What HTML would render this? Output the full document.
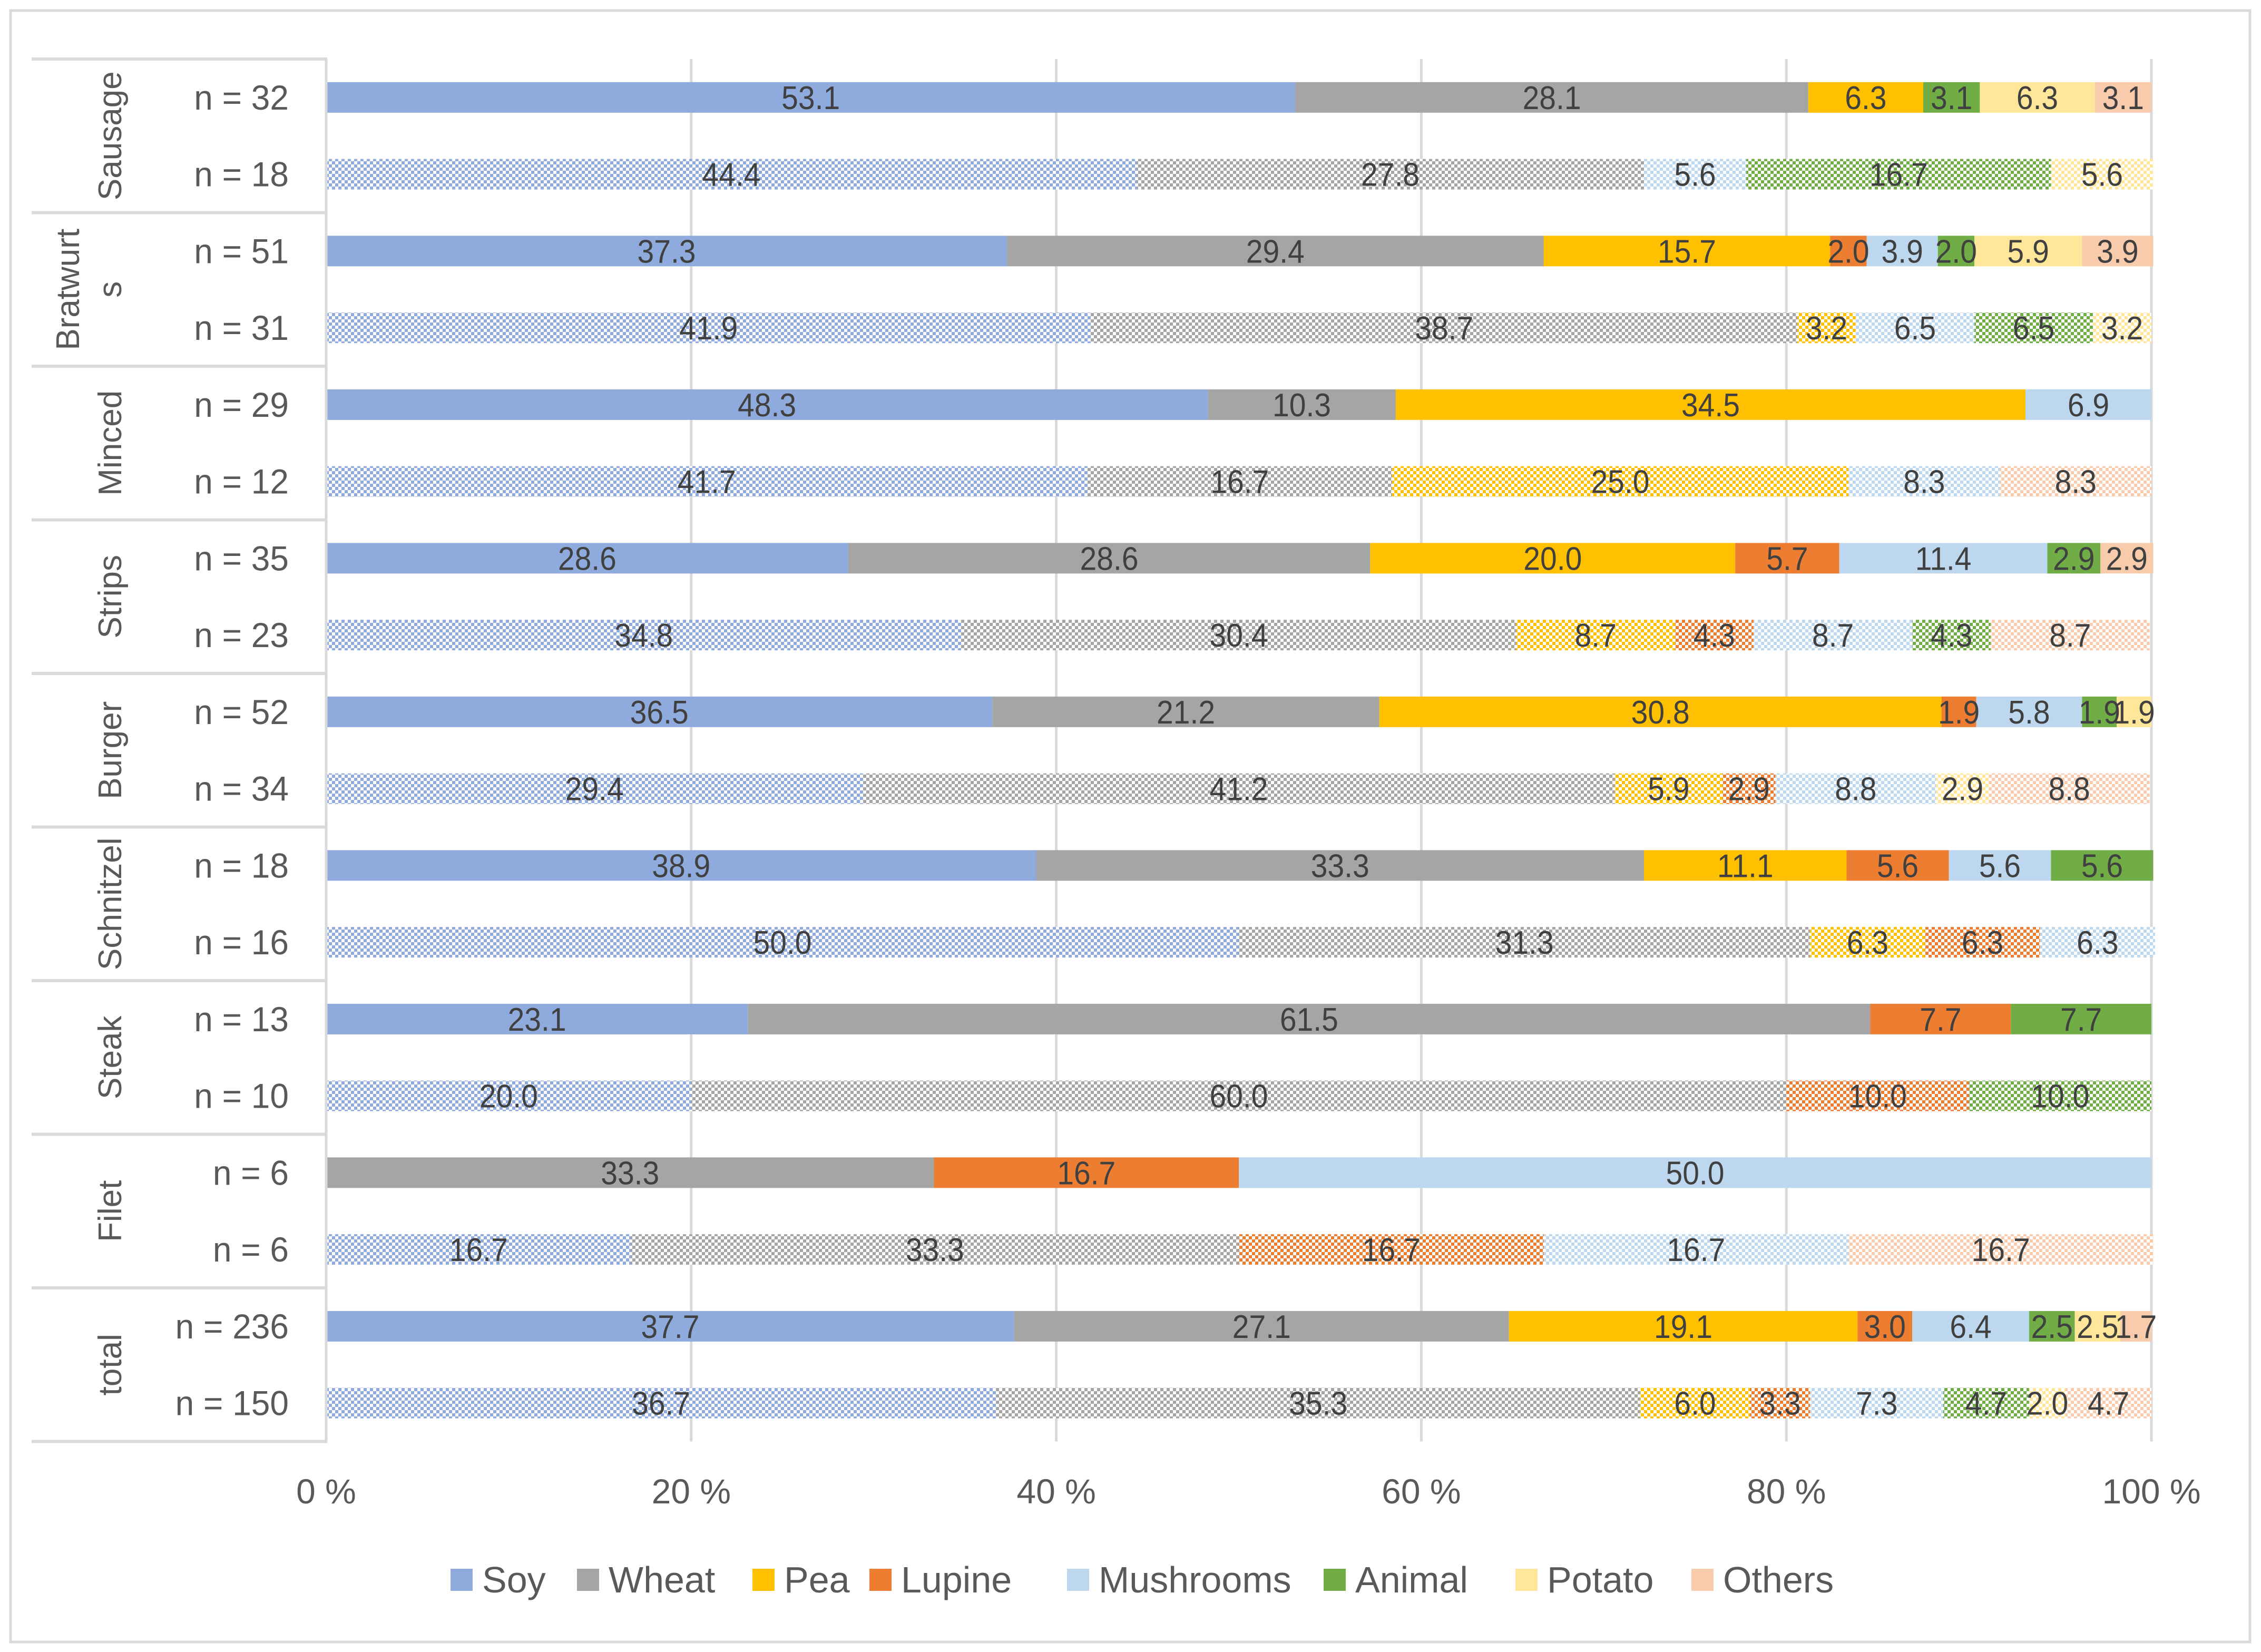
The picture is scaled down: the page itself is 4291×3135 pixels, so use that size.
<!DOCTYPE html>
<html><head><meta charset="utf-8"><style>
html,body{margin:0;padding:0;background:#fff}
svg{display:block}
text{font-family:"Liberation Sans",sans-serif}
</style></head><body>
<svg id="chart" width="4291" height="3135" viewBox="0 0 4291 3135" xmlns="http://www.w3.org/2000/svg">
<defs id="defs"></defs>
<rect x="20" y="20" width="4250" height="3096" fill="#fff" stroke="#d9d9d9" stroke-width="5"/>
<g id="grid"></g><g id="bars"></g><g id="labels"></g><g id="cats"></g><g id="axis"></g><g id="legend"></g>
</svg>
<script>
const series = ["Soy","Wheat","Pea","Lupine","Mushrooms","Animal","Potato","Others"];
const colors = ["#8faadc","#a5a5a5","#ffc000","#ed7d31","#bdd7ee","#70ad47","#ffe699","#f8cbad"];
const groups = ["Sausage","Bratwurst","Minced","Strips","Burger","Schnitzel","Steak","Filet","total"];
const nLabels = ["n = 32","n = 18","n = 51","n = 31","n = 29","n = 12","n = 35","n = 23","n = 52","n = 34","n = 18","n = 16","n = 13","n = 10","n = 6","n = 6","n = 236","n = 150"];
const hatched = [false,true,false,true,false,true,false,true,false,true,false,true,false,true,false,true,false,true];
const soy       = [53.1,44.4,37.3,41.9,48.3,41.7,28.6,34.8,36.5,29.4,38.9,50.0,23.1,20.0,0,16.7,37.7,36.7];
const wheat     = [28.1,27.8,29.4,38.7,10.3,16.7,28.6,30.4,21.2,41.2,33.3,31.3,61.5,60.0,33.3,33.3,27.1,35.3];
const pea       = [6.3,0,15.7,3.2,34.5,25.0,20.0,8.7,30.8,5.9,11.1,6.3,0,0,0,0,19.1,6.0];
const lupine    = [0,0,2.0,0,0,0,5.7,4.3,1.9,2.9,5.6,6.3,7.7,10.0,16.7,16.7,3.0,3.3];
const mushrooms = [0,5.6,3.9,6.5,6.9,8.3,11.4,8.7,5.8,8.8,5.6,6.3,0,0,50.0,16.7,6.4,7.3];
const animal    = [3.1,16.7,2.0,6.5,0,0,2.9,4.3,1.9,0,5.6,0,7.7,10.0,0,0,2.5,4.7];
const potato    = [6.3,5.6,5.9,3.2,0,0,0,0,1.9,2.9,0,0,0,0,0,0,2.5,2.0];
const others    = [3.1,0,3.9,0,0,8.3,2.9,8.7,0,8.8,0,0,0,0,0,16.7,1.7,4.7];
const ticks = ["0 %","20 %","40 %","60 %","80 %","100 %"];
const tickVals = [0,20,40,60,80,100];

const NS="http://www.w3.org/2000/svg";
const X0=619, X1=4083, TOP=112, ROWH=145.75, BARH=58;
const xs=v=>X0+(v/100)*(X1-X0);
const yc=i=>TOP+ROWH/2+i*ROWH;
function mk(tag,attrs,parent){const e=document.createElementNS(NS,tag);for(const k in attrs)e.setAttribute(k,attrs[k]);parent.appendChild(e);return e;}
const defs=document.getElementById('defs');
colors.forEach((c,j)=>{
  const p=mk('pattern',{id:'hp'+j,width:12,height:12,patternUnits:'userSpaceOnUse'},defs);
  mk('rect',{x:0,y:0,width:12,height:12,fill:'#fff'},p);
  mk('rect',{x:0,y:0,width:6,height:6,fill:c},p);
  mk('rect',{x:6,y:6,width:6,height:6,fill:c},p);
});
const grid=document.getElementById('grid');
tickVals.forEach((v,i)=>{
  const l=mk('line',{x1:xs(v),x2:xs(v),y1:TOP,y2:TOP+18*ROWH,stroke:'#d9d9d9','stroke-width':5},grid);
  
  
});
const data=[soy,wheat,pea,lupine,mushrooms,animal,potato,others];
const bars=document.getElementById('bars'), labels=document.getElementById('labels');
for(let i=0;i<nLabels.length;i++){
  let acc=0;
  for(let j=0;j<series.length;j++){
    const v=data[j][i]; if(!v) continue;
    const r=mk('rect',{x:xs(acc),y:yc(i)-BARH/2,width:xs(acc+v)-xs(acc),height:BARH,fill:hatched[i]?'url(#hp'+j+')':colors[j]},bars);
    
    
    const cx=xs(acc+v/2);
    const t=mk('text',{transform:`translate(${cx},${yc(i)+22}) scale(0.92,1)`,'text-anchor':'middle','font-size':62,fill:'#404040'},labels);
    t.textContent=v.toFixed(1);
    
    
    acc+=v;
  }
}
const cats=document.getElementById('cats');
for(let g=0;g<=groups.length;g++){
  const l=mk('line',{x1:60,x2:621,y1:TOP+g*2*ROWH,y2:TOP+g*2*ROWH,stroke:'#d9d9d9','stroke-width':6},cats);
  
  
}
const ax=mk('line',{x1:619,x2:619,y1:TOP,y2:TOP+18*ROWH,stroke:'#d9d9d9','stroke-width':5},cats);


groups.forEach((g,k)=>{
  const cy=TOP+ROWH+k*2*ROWH;
  if(g==="Bratwurst"){
    [["Bratwurt",150],["s",230]].forEach(([s,x])=>{
      const t=mk('text',{transform:`translate(${x},${cy}) rotate(-90)`,'text-anchor':'middle','font-size':62,fill:'#595959','font-family':'DejaVu Sans, sans-serif'},cats);
      t.textContent=s;
      
      
    });
  } else {
    const t=mk('text',{transform:`translate(230,${cy}) rotate(-90)`,'text-anchor':'middle','font-size':62,fill:'#595959','font-family':'DejaVu Sans, sans-serif'},cats);
    t.textContent=g;
    
    
  }
});
nLabels.forEach((s,i)=>{
  const t=mk('text',{transform:`translate(548,${yc(i)+23}) scale(0.97,1)`,'text-anchor':'end','font-size':66,fill:'#595959'},cats);
  t.textContent=s;
  
  
});
const axis=document.getElementById('axis');
tickVals.forEach((v,i)=>{
  const t=mk('text',{transform:`translate(${xs(v)},2853) scale(1.0,1)`,'text-anchor':'middle','font-size':66,fill:'#595959'},axis);
  t.textContent=ticks[i];
  
  
});
const legend=document.getElementById('legend');
const legX=[855,1095,1428,1650,2025,2512,2876,3210];
series.forEach((s,j)=>{
  const r=mk('rect',{x:legX[j],y:2977,width:42,height:42,fill:colors[j]},legend);
  
  
  const t=mk('text',{transform:`translate(${legX[j]+60},3022) scale(1.0,1)`,'font-size':70,fill:'#595959'},legend);
  t.textContent=s;
  
  
});
</script>
</body></html>
